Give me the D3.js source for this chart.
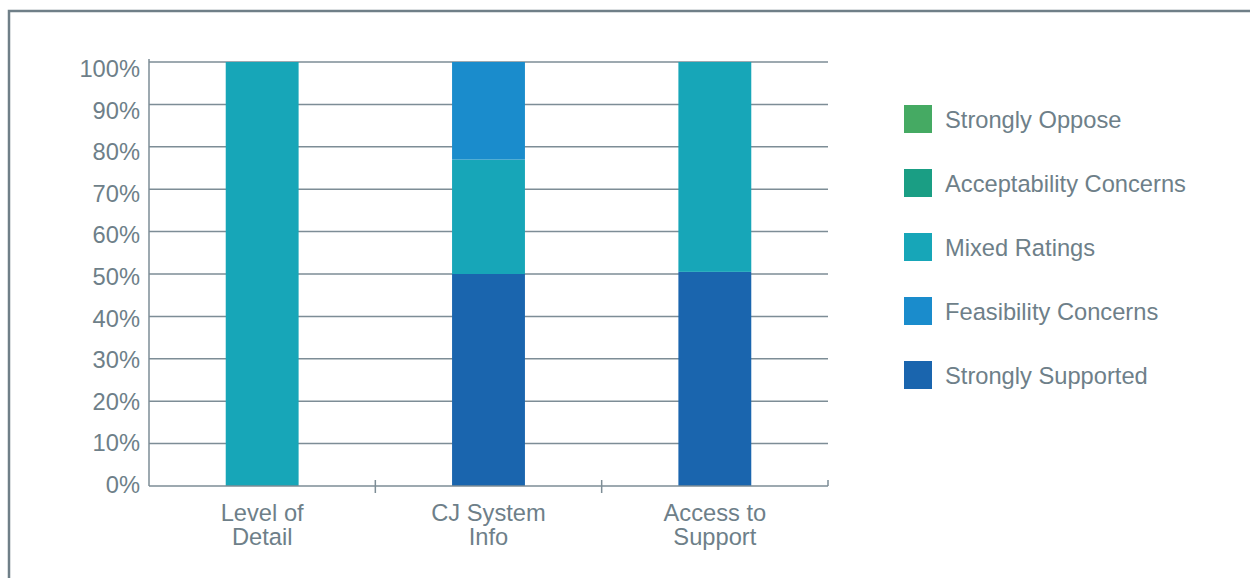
<!DOCTYPE html>
<html>
<head>
<meta charset="utf-8">
<script src="https://cdn.jsdelivr.net/npm/d3@7"></script>
<style>
  html, body { margin: 0; padding: 0; background: #fff; }
  svg { display: block; }
  text { font-family: "Liberation Sans", Arial, Helvetica, sans-serif; fill: #6e7f89; }
</style>
</head>
<body>
<svg id="chart" width="1250" height="578"></svg>
<script>
// Categories (x axis) — each label split into two lines
const categories = ["Level of Detail", "CJ System Info", "Access to Support"];
const categoryLines = [["Level of", "Detail"], ["CJ System", "Info"], ["Access to", "Support"]];

// Share of ratings per category, in percent
const stronglySupported = [0, 50, 50.5];
const mixedRatings      = [100, 27, 49.5];
const feasibility       = [0, 23, 0];
const acceptability     = [0, 0, 0];
const stronglyOppose    = [0, 0, 0];

// Legend order (top to bottom)
const legendNames = ["Strongly Oppose", "Acceptability Concerns", "Mixed Ratings", "Feasibility Concerns", "Strongly Supported"];
const legendColors = ["#45aa63", "#1a9e84", "#17a6b8", "#1a8ccc", "#1a65ae"];

// Stacking order (bottom to top)
const stackKeys = ["Strongly Supported", "Mixed Ratings", "Feasibility Concerns", "Acceptability Concerns", "Strongly Oppose"];
const seriesValues = {
  "Strongly Supported": stronglySupported,
  "Mixed Ratings": mixedRatings,
  "Feasibility Concerns": feasibility,
  "Acceptability Concerns": acceptability,
  "Strongly Oppose": stronglyOppose
};

const yTicks = [0, 10, 20, 30, 40, 50, 60, 70, 80, 90, 100];

const rows = categories.map((c, i) => {
  const r = { category: c };
  stackKeys.forEach(k => r[k] = seriesValues[k][i]);
  return r;
});

const color = d3.scaleOrdinal().domain(legendNames).range(legendColors);

const svg = d3.select("#chart");
const gray = "#6e7f89";
const gridColor = "#7d8d96";
const fontSize = 23.7;

// Outer frame
svg.append("rect")
  .attr("x", 9).attr("y", 11)
  .attr("width", 1300).attr("height", 700)
  .attr("fill", "none")
  .attr("stroke", "#6f7f88")
  .attr("stroke-width", 2.5);

const plot = { left: 149, right: 828, top: 62, bottom: 486 };

const x = d3.scaleBand()
  .domain(categories)
  .range([plot.left, plot.right])
  .paddingInner(0.678)
  .paddingOuter(0.339);

const xOuter = d3.scaleBand()
  .domain(categories)
  .range([plot.left, plot.right])
  .padding(0);

const y = d3.scaleLinear().domain([0, 100]).range([plot.bottom, plot.top]);
// Tick labels sit on a slightly tighter scale than the gridlines
const yLabel = d3.scaleLinear().domain([0, 100]).range([plot.bottom - 2, plot.top + 6]);

// Horizontal gridlines
svg.append("g")
  .selectAll("line")
  .data(yTicks.filter(t => t > 0))
  .join("line")
  .attr("x1", plot.left).attr("x2", plot.right)
  .attr("y1", d => y(d)).attr("y2", d => y(d))
  .attr("stroke", gridColor)
  .attr("stroke-width", 1.5);

// Stacked bars
const stacked = d3.stack().keys(stackKeys)(rows);
svg.append("g")
  .selectAll("g")
  .data(stacked)
  .join("g")
  .attr("fill", d => color(d.key))
  .selectAll("rect")
  .data(d => d.filter(p => p[1] - p[0] > 0))
  .join("rect")
  .attr("x", d => x(d.data.category))
  .attr("width", x.bandwidth())
  .attr("y", d => y(d[1]))
  .attr("height", d => y(d[0]) - y(d[1]));

// Y axis
const yAxis = d3.axisLeft(yLabel)
  .tickValues(yTicks)
  .tickFormat(d => d + "%")
  .tickSize(0)
  .tickPadding(9);
const yg = svg.append("g")
  .attr("transform", `translate(${plot.left},0)`)
  .call(yAxis);
yg.select(".domain").remove();
yg.selectAll("text")
  .attr("font-size", fontSize)
  .attr("fill", gray)
  .attr("dy", "0.36em");
svg.append("line")
  .attr("x1", plot.left).attr("x2", plot.left)
  .attr("y1", plot.top - 3).attr("y2", plot.bottom)
  .attr("stroke", gridColor).attr("stroke-width", 1.5);

// X axis baseline and band separators
svg.append("line")
  .attr("x1", plot.left).attr("x2", plot.right)
  .attr("y1", plot.bottom).attr("y2", plot.bottom)
  .attr("stroke", gridColor).attr("stroke-width", 1.5);
svg.append("g")
  .selectAll("line")
  .data(categories.slice(1))
  .join("line")
  .attr("x1", d => xOuter(d)).attr("x2", d => xOuter(d))
  .attr("y1", plot.bottom - 6).attr("y2", plot.bottom + 7)
  .attr("stroke", gridColor).attr("stroke-width", 1.5);
svg.append("line")
  .attr("x1", plot.right).attr("x2", plot.right)
  .attr("y1", plot.bottom - 6).attr("y2", plot.bottom)
  .attr("stroke", gridColor).attr("stroke-width", 1.5);

// X labels
const xl = svg.append("g")
  .selectAll("text")
  .data(categories)
  .join("text")
  .attr("text-anchor", "middle")
  .attr("font-size", fontSize)
  .attr("fill", gray)
  .attr("transform", d => `translate(${x(d) + x.bandwidth() / 2},521)`);
xl.selectAll("tspan")
  .data((d, i) => categoryLines[i])
  .join("tspan")
  .attr("x", 0)
  .attr("y", (d, i) => i * 24)
  .text(d => d);

// Legend
const legend = svg.append("g")
  .selectAll("g")
  .data(legendNames)
  .join("g")
  .attr("transform", (d, i) => `translate(904,${119 + i * 64})`);
legend.append("rect")
  .attr("x", 0).attr("y", -14)
  .attr("width", 28).attr("height", 28)
  .attr("fill", d => color(d));
legend.append("text")
  .attr("x", 41).attr("y", 0)
  .attr("dy", "0.36em")
  .attr("font-size", fontSize)
  .attr("fill", gray)
  .text(d => d);
</script>
</body>
</html>
